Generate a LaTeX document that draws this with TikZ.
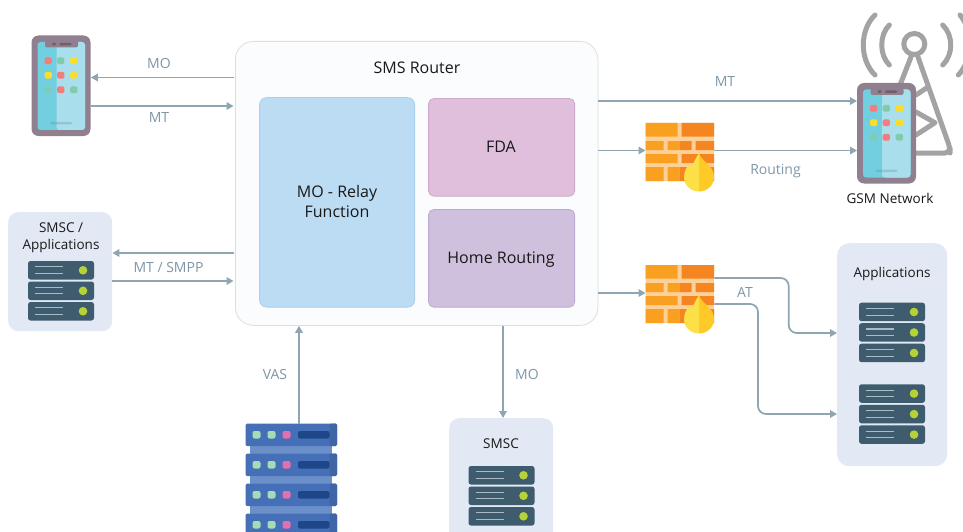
\documentclass[tikz,border=0pt]{standalone}
\usepackage{fontspec}
\setmainfont{Open Sans}
\usetikzlibrary{arrows.meta}
\definecolor{arrowc}{HTML}{8FA5B1}
\definecolor{labelc}{HTML}{7F97A6}
\definecolor{panelc}{HTML}{E2E9F4}
\definecolor{srv}{HTML}{3F5B6E}
\definecolor{srvl}{HTML}{A9BBC5}
\definecolor{srvd}{HTML}{B5D334}
\definecolor{phonec}{HTML}{90808F}
\definecolor{towerc}{HTML}{A3A3A3}
\definecolor{rack}{HTML}{4570B8}
\definecolor{rackb}{HTML}{6B8FC9}
\definecolor{rackd}{HTML}{1D4789}
\definecolor{redd}{HTML}{F47C7C}
\definecolor{grnd}{HTML}{82CBA8}
\definecolor{yeld}{HTML}{FBDD2B}
\definecolor{HTML-a}{HTML}{A5DBB5}
\definecolor{HTML-b}{HTML}{E56FAE}
\definecolor{HTML-c}{HTML}{72CFE0}
\definecolor{HTML-d}{HTML}{A9DFEC}
\definecolor{HTML-e}{HTML}{FDD09A}
\definecolor{HTML-f}{HTML}{FAA020}
\definecolor{HTML-g}{HTML}{F58520}
\definecolor{HTML-h}{HTML}{FDE047}
\definecolor{HTML-i}{HTML}{FFCA28}
\definecolor{routerb}{HTML}{D8E0E4}
\definecolor{routerf}{HTML}{FBFCFD}
\tikzset{
  x=1pt,y=-1pt,
  arr/.style={draw=arrowc,line width=1.7pt,-{Triangle[length=7pt,width=7.5pt]}},
  arrbend/.style={arr,rounded corners=8pt},
  lab/.style={text=labelc,font=\fontsize{14}{16}\selectfont,inner sep=0pt},
  txt/.style={text=black!90,font=\fontsize{13.5}{19.5}\selectfont,inner sep=0pt,align=center},
  panel/.style={fill=panelc,draw=none,rounded corners=10pt,inner sep=0pt},
  inner/.style={rounded corners=7pt,line width=.8pt,inner sep=0pt,align=center,font=\fontsize{16}{20}\selectfont,text=black!90},
  hold/.style={inner sep=0pt,anchor=north west,draw=none},
  towerl/.style={draw=towerc,line width=5pt,line cap=round,line join=round},
  srvunit/.pic={
    \fill[srv,rounded corners=2.5pt] (0,0) rectangle (66,18.5);
    \draw[srvl,line width=1.1pt] (7,5.8) -- (35,5.8) (7,12.4) -- (35,12.4);
    \fill[srvd] (55,9.3) circle (4.3);
  },
  srvstack/.pic={
    \pic at (0,0) {srvunit};
    \pic at (0,20.5) {srvunit};
    \pic at (0,41) {srvunit};
  },
  rackunit/.pic={
    \fill[rack,rounded corners=1.5pt] (0,0) rectangle (91.5,22.5);
    \fill[black!10!rack,rounded corners=1.5pt] (84,0) rectangle (91.5,22.5);
    \fill[HTML-a,rounded corners=2pt] (7,7.5) rectangle (15,15);
    \fill[HTML-a,rounded corners=2pt] (22,7.5) rectangle (30,15);
    \fill[HTML-b,rounded corners=2pt] (37,7.5) rectangle (45,15);
    \fill[rackd,rounded corners=2pt] (52.5,7.5) rectangle (84,15);
  },
  phonepic/.pic={
    \fill[phonec,rounded corners=7pt] (0,0) rectangle (59,100.5);
    \fill[HTML-c,rounded corners=3pt] (6,6.5) rectangle (53.5,94.5);
    \fill[HTML-d,rounded corners=3pt] (25,6.5) rectangle (53.5,94.5);
    \fill[phonec,rounded corners=2pt] (13.5,5) rectangle (46.5,12);
    \fill[black!25!phonec,rounded corners=1pt] (20.5,7.5) rectangle (24.5,9.8);
    \fill[black!25!phonec,rounded corners=1pt] (28,7.5) rectangle (40,9.8);
    \foreach \cx/\cy/\cc in {16.7/25.3/redd,29.3/25.3/grnd,42.3/25.3/yeld,
       16.7/39.7/yeld,29.3/39.7/redd,42.3/39.7/yeld,
       16.7/54.3/grnd!70!HTML-c,29.3/54.3/redd,42.3/54.3/grnd}{
      \fill[\cc,rounded corners=1.5pt] (\cx-3.6,\cy-3.4) rectangle (\cx+3.6,\cy+3.4);
    }
    \fill[black!40!HTML-d,opacity=.3,rounded corners=1pt] (18.7,86.5) rectangle (40.3,89);
  },
  wallpic/.pic={
    \fill[HTML-e,rounded corners=1pt] (0,0) rectangle (68.5,58);
    \fill[HTML-f] (0,0) rectangle (32,13.5) (0,18) rectangle (18,27) (22,18) rectangle (34,27)
       (0,31) rectangle (32,40) (0,44) rectangle (18,58) (22,44) rectangle (34,58);
    \fill[HTML-g] (36,0) rectangle (68.5,13.5) (34,18) rectangle (46,27) (50,18) rectangle (68.5,27)
       (36,31) rectangle (68.5,40) (34,44) rectangle (46,58) (50,44) rectangle (68.5,58);
    \fill[HTML-h] (53.5,30) .. controls (51,34) and (49,38) .. (46.5,43)
       .. controls (42,40) and (38.5,48) .. (38.5,54)
       .. controls (38.5,63) and (46,68.5) .. (53.5,68.5) -- cycle;
    \fill[HTML-i] (53.5,30) .. controls (55,38) and (68.5,42) .. (68.5,54)
       .. controls (68.5,63) and (61,68.5) .. (53.5,68.5) -- cycle;
  },
}
\begin{document}
\begin{tikzpicture}
\useasboundingbox (0,0) rectangle (963,532);
\clip (0,0) rectangle (963,532);
\fill[white] (0,0) rectangle (963,532);

% router and inner blocks
\node[draw=routerb,fill=routerf,line width=.8pt,rounded corners=18pt,inner sep=0pt,anchor=north west,minimum width=362.5pt,minimum height=284pt] (router) at (235,41) {};
\node[txt,font=\fontsize{16}{20}\selectfont] (rtitle) at (417,67.7) {SMS Router};
\node[inner,anchor=north west,fill={rgb,255:red,188;green,220;blue,243},draw={rgb,255:red,168;green,208;blue,236},minimum width=155pt,minimum height=209.5pt] (relay) at (259.2,97.2) {};
\node[inner,fill=none,draw=none] (relayt) at (337,201.5) {MO - Relay\\Function};
\node[inner,anchor=north west,rounded corners=5pt,fill={rgb,255:red,223;green,191;blue,220},draw={rgb,255:red,207;green,169;blue,203},minimum width=146pt,minimum height=97.5pt] (fda) at (428.2,98.2) {};
\node[inner,fill=none,draw=none] (fdat) at (501,147) {FDA};
\node[inner,anchor=north west,rounded corners=5pt,fill={rgb,255:red,207;green,192;blue,222},draw={rgb,255:red,190;green,170;blue,210},minimum width=146pt,minimum height=97.5pt] (home) at (428.2,209.2) {};
\node[inner,fill=none,draw=none] (homet) at (501,259.5) {Home Routing};

% left phone
\node[hold,minimum width=59pt,minimum height=100.5pt] (phoneA) at (31.5,35.5) {};
\pic at (31.5,35.5) {phonepic};
\draw[arr,shorten <=1.5pt] (router.west |- 0,77.5) -- (phoneA.east |- 0,77.5);
\draw[arr,shorten >=1.5pt] (phoneA.east |- 0,106) -- (router.west |- 0,106);
\node[lab] (mo1) at (159,63.5) {MO};
\node[lab] (mt1) at (159,118) {MT};

% left panel
\node[panel,hold,minimum width=104pt,minimum height=119pt] (smscapp) at (8,212) {};
\node[txt,font=\fontsize{13.5}{17}\selectfont] (smscappt) at (61,238) {SMSC /\\Applications};
\pic at (28,261) {srvstack};
\draw[arr,shorten <=1.5pt] (router.west |- 0,253) -- (smscapp.east |- 0,253);
\draw[arr,shorten >=1.5pt] (smscapp.east |- 0,281) -- (router.west |- 0,281);
\node[lab] (mt2) at (168.5,267) {MT / SMPP};

% rack
\node[hold,minimum width=91.5pt,minimum height=120pt] (rackn) at (245.5,423.5) {};
\fill[rackb] (250,440) rectangle (332,532);
\foreach \ry in {423.5,453.5,483.5,513.5}{\pic at (245.5,\ry) {rackunit};}
\draw[arr] (rackn.north -| 299,0) -- (router.south -| 299,0);
\node[lab] (vas) at (275,374.5) {VAS};

% SMSC
\node[panel,hold,minimum width=104pt,minimum height=130pt] (smsc) at (449,418) {};
\node[txt] (smsct) at (501,443.5) {SMSC};
\pic at (468.5,466) {srvstack};
\draw[arr] (router.south -| 503,0) -- (smsc.north -| 503,0);
\node[lab] (mo2) at (527,374.5) {MO};

% tower
\draw[towerl] (875,15) .. controls (859.4,30) and (859.4,60) .. (875,75);
\draw[towerl] (889.3,25) .. controls (879.2,35) and (879.2,55) .. (889.3,65);
\draw[towerl] (942.7,25) .. controls (953.4,35) and (953.4,55) .. (942.7,65);
\draw[towerl] (960,15) .. controls (973,30) and (973,60) .. (958.3,75);
\draw[towerl] (914.3,44) circle (10.5);
\draw[towerl] (911,57) -- (900,85);
\draw[towerl,rounded corners=5pt] (918,57) -- (950,148) -- (950,153) -- (910,153);
\draw[towerl] (916,95) -- (928,87) (916,112) -- (935,122.7) -- (916,135);

% right phone
\node[hold,minimum width=59pt,minimum height=100.5pt] (phoneB) at (857,83) {};
\pic at (857,83) {phonepic};
\node[txt] (gsm) at (890,198.3) {GSM Network};

% firewalls
\node[hold,minimum width=68.5pt,minimum height=58pt] (wallA) at (645.5,123) {};
\pic at (645.5,123) {wallpic};
\node[hold,minimum width=68.5pt,minimum height=58pt] (wallB) at (645.5,265) {};
\pic at (645.5,265) {wallpic};

\draw[arr] (router.east |- 0,101) -- (phoneB.west |- 0,101);
\node[lab] (mt3) at (725,81.5) {MT};
\draw[arr] (router.east |- 0,150.5) -- (wallA.west |- 0,150.5);
\draw[arr] (wallA.east |- 0,150.5) -- (phoneB.west |- 0,150.5);
\node[lab] (rout) at (775.5,171) {Routing};
\draw[arr] (router.east |- 0,293) -- (wallB.west |- 0,293);

% applications
\node[panel,hold,rounded corners=12pt,minimum width=110pt,minimum height=223pt] (apps) at (837,243) {};
\node[txt] (appst) at (892,273.5) {Applications};
\pic at (859,302.7) {srvstack};
\pic at (859,384.3) {srvstack};
\draw[arrbend] (wallB.east |- 0,278) -- (788.7,278) -- (788.7,333) -- (apps.west |- 0,333);
\draw[arrbend] (wallB.east |- 0,304) -- (758,304) -- (758,414) -- (apps.west |- 0,414);
\node[lab] (at) at (745,292.5) {AT};
\end{tikzpicture}
\end{document}
